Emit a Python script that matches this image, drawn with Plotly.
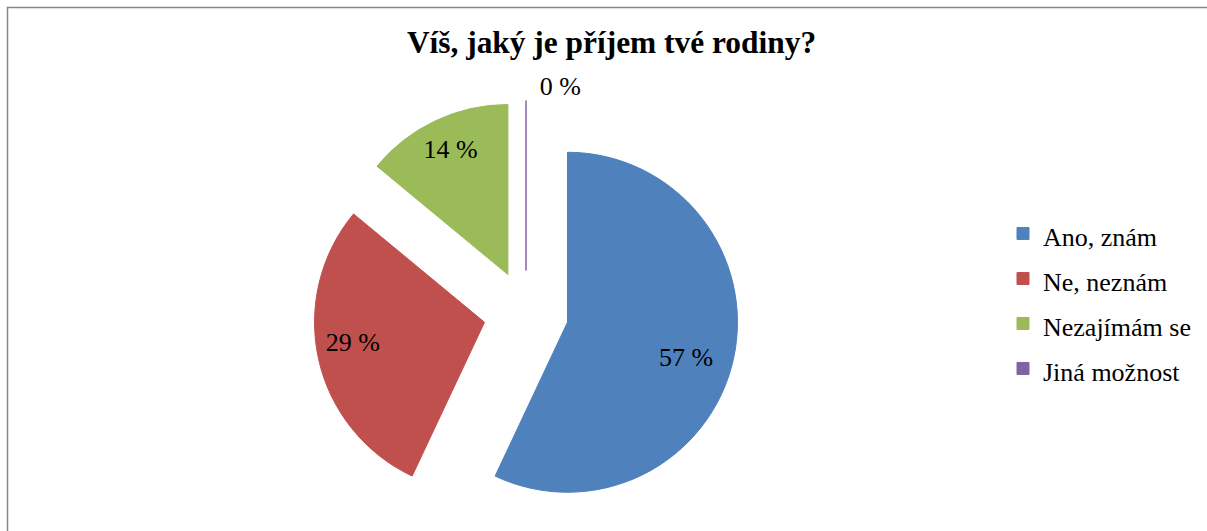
import plotly.graph_objects as go

title_text = "Víš, jaký je příjem tvé rodiny?"
categories = ["Ano, znám", "Ne, neznám", "Nezajímám se", "Jiná možnost"]
values = [57, 29, 14, 0]
colors = ["#4F81BD", "#C0504D", "#9BBB59", "#8064A2"]
pulls = [0.25, 0.25, 0.25, 0.25]
text_pos = ["inside", "inside", "inside", "outside"]

W, H = 1207, 531
FONT = "Liberation Serif, Times New Roman, serif"
NB = "\u00a0"

# per-slice label layout (invisible padding nudges the label inside each slice)
label_templates = [
    NB + "<br>" + NB * 11 + "%{value} %",
    "%{value} %" + NB * 12,
    "%{value} %" + NB * 2 + "<br>" + NB,
    NB + "%{value} %",
]

fig = go.Figure(
    go.Pie(
        labels=[f'<span style="font-size:26px">{c}</span>' for c in categories],
        values=values,
        sort=False,
        direction="clockwise",
        rotation=0,
        pull=pulls,
        marker=dict(colors=colors, line=dict(color=colors, width=1)),
        texttemplate=label_templates,
        textposition=text_pos,
        insidetextorientation="horizontal",
        textfont=dict(family=FONT, size=26, color="black"),
        domain=dict(x=[313.5 / W, 738.5 / W], y=[5.5 / H, 430.5 / H]),
        hoverinfo="label+value",
    )
)

fig.update_layout(
    width=W,
    height=H,
    margin=dict(l=0, r=0, t=0, b=0, autoexpand=False),
    paper_bgcolor="white",
    plot_bgcolor="white",
    font=dict(family=FONT, color="black"),
    title=dict(
        text="<b>" + title_text + "</b>",
        x=611.5 / W,
        xanchor="center",
        y=1 - 42.5 / H,
        yanchor="middle",
        font=dict(family=FONT, size=31.4, color="black"),
    ),
    legend=dict(
        x=1003 / W,
        xanchor="left",
        y=(H - 301) / H,
        yanchor="middle",
        font=dict(family=FONT, size=32.3, color="black"),
        bgcolor="rgba(0,0,0,0)",
    ),
    shapes=[
        dict(
            type="rect",
            xref="paper",
            yref="paper",
            x0=7.5 / W,
            x1=1.1,
            y0=-0.1,
            y1=1 - 7.5 / H,
            line=dict(color="#868686", width=1.5),
            fillcolor="rgba(0,0,0,0)",
            layer="below",
        )
    ],
)

post = "document.body.style.margin='0';document.body.style.overflow='hidden';"
fig.write_html("out.html", post_script=post, config={"displayModeBar": False})
